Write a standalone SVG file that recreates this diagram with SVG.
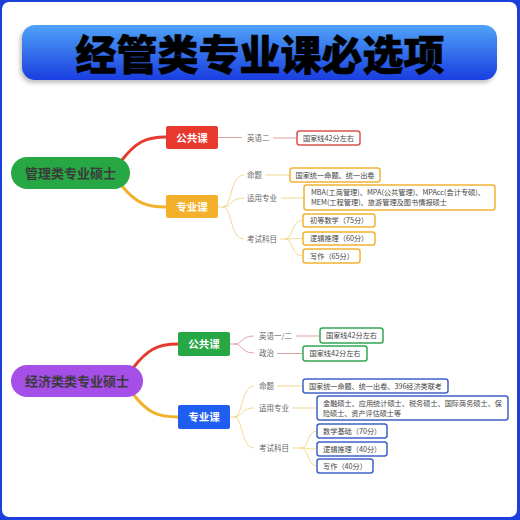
<svg xmlns="http://www.w3.org/2000/svg" width="520" height="520" viewBox="0 0 520 520">
<defs>
<linearGradient id="tg" x1="0" y1="0" x2="0" y2="1">
<stop offset="0" stop-color="#4fa3f8"/>
<stop offset="1" stop-color="#1a3de0"/>
</linearGradient>
<filter id="sh" x="-5%" y="-20%" width="110%" height="150%">
<feDropShadow dx="-2" dy="3" stdDeviation="2" flood-color="#000" flood-opacity="0.25"/>
</filter>
<style>
.cjk{font-family:"Noto Sans CJK SC","Noto Sans",sans-serif}
.root{font-size:13px;font-weight:bold;fill:#3a3a3a}
.sub{font-size:10.5px;font-weight:bold;fill:#fff}
.lab{font-size:7.5px;fill:#666}
.bt{font-size:7.2px;fill:#444}
.box{fill:#fff;stroke-width:1.5}
.thick{fill:none;stroke-width:3;stroke-linecap:round}
.thin{fill:none;stroke-width:1}
.rl{stroke:#e0a3a3}
.yl{stroke:#f1d98f}
</style>
</defs>
<rect x="0" y="0" width="520" height="520" fill="#1c3fdc"/>
<rect x="2" y="2" width="515" height="515" rx="7" fill="#fff"/>
<g id="title">
<rect x="22" y="25" width="475" height="55" rx="13" fill="url(#tg)" filter="url(#sh)"/>
<text x="260" y="70" text-anchor="middle" class="cjk" font-size="41" font-weight="900" fill="#000" stroke="#000" stroke-width="0.6">经管类专业课必选项</text>
</g>
<g id="connectors">
<path class="thick" stroke="#e53a2f" d="M122 160 C136 142 146 137 166 137"/>
<path class="thick" stroke="#f3b02b" d="M122 186 C136 203 146 207 166 207"/>
<path class="thin rl" d="M218 137.5 H242 M273 138 H297"/>
<path class="thin yl" d="M218 207 H223 C232 207 230 175 244 175 M223 207 C232 207 230 198 244 198 M223 207 C232 207 230 239 244 239"/>
<path class="thin yl" d="M265 175 H290 M281 198 H304"/>
<path class="thin yl" d="M280 239 H285 C293 239 291 220.5 303 220.5 M285 239 C293 239 291 238.5 303 238.5 M285 239 C293 239 291 256 303 256"/>
<path class="thick" stroke="#e53a2f" d="M133 368 C147 350 157 344 178 344"/>
<path class="thick" stroke="#f3b02b" d="M133 394 C147 412 157 417 178 417"/>
<path class="thin rl" d="M230 344 H234 C243 344 241 336 254 336 M234 344 C243 344 241 353 254 353 M296 336 H320 M277 353.5 H303"/>
<path class="thin yl" d="M230 417 H234 C243 417 241 386 254 386 M234 417 C243 417 241 408 254 408 M234 417 C243 417 241 448 254 448"/>
<path class="thin yl" d="M277 386 H303 M292 408 H317"/>
<path class="thin yl" d="M292 448 H301 C309 448 307 431 317 431 M301 448 C309 448 307 449 317 449 M301 448 C309 448 307 466 317 466"/>
</g>
<g id="root1">
<rect x="11" y="157" width="119" height="32" rx="16" fill="#27a844"/>
<text x="70.5" y="177.5" text-anchor="middle" class="cjk root">管理类专业硕士</text>
</g>
<g id="gg1">
<rect x="166" y="126" width="52" height="23" rx="2" fill="#e8392f"/>
<text x="192" y="141.5" text-anchor="middle" class="cjk sub">公共课</text>
</g>
<g id="zy1">
<rect x="166" y="195" width="52" height="23" rx="2" fill="#f3b02b"/>
<text x="192" y="210.5" text-anchor="middle" class="cjk sub">专业课</text>
</g>
<g id="l1a"><text x="247" y="140.5" class="cjk lab">英语二</text></g>
<g id="b1a"><rect x="297" y="131" width="63" height="14" rx="2.5" class="box" stroke="#d9534f"/><text x="328.5" y="140.8" text-anchor="middle" class="cjk bt">国家线42分左右</text></g>
<g id="l1b"><text x="247" y="177.5" class="cjk lab">命题</text></g>
<g id="b1b"><rect x="290" y="168" width="90" height="14" rx="2.5" class="box" stroke="#f0b232"/><text x="335" y="177.8" text-anchor="middle" class="cjk bt">国家统一命题、统一出卷</text></g>
<g id="l1c"><text x="247" y="200.5" class="cjk lab">适用专业</text></g>
<g id="b1c"><rect x="304" y="185" width="191" height="25" rx="2.5" class="box" stroke="#f0b232"/><text x="311" y="195.3" class="cjk bt" textLength="174" lengthAdjust="spacingAndGlyphs">MBA(工商管理)、MPA(公共管理)、MPAcc(会计专硕)、</text><text x="311" y="205.3" class="cjk bt" textLength="136" lengthAdjust="spacingAndGlyphs">MEM(工程管理)、旅游管理及图书情报硕士</text></g>
<g id="l1d"><text x="247" y="241.5" class="cjk lab">考试科目</text></g>
<g id="b1d"><rect x="303" y="214" width="72" height="13" rx="2.5" class="box" stroke="#f0b232"/><text x="310" y="223.3" class="cjk bt">初等数学（75分）</text></g>
<g id="b1e"><rect x="303" y="232" width="72" height="13" rx="2.5" class="box" stroke="#f0b232"/><text x="310" y="241.3" class="cjk bt">逻辑推理（60分）</text></g>
<g id="b1f"><rect x="303" y="249" width="57" height="14" rx="2.5" class="box" stroke="#f0b232"/><text x="310" y="258.8" class="cjk bt">写作（65分）</text></g>
<g id="root2">
<rect x="11" y="365" width="132" height="32" rx="16" fill="#a64ee8"/>
<text x="77" y="385.5" text-anchor="middle" class="cjk root">经济类类专业硕士</text>
</g>
<g id="gg2">
<rect x="178" y="332" width="52" height="24" rx="2" fill="#27a844"/>
<text x="204" y="348" text-anchor="middle" class="cjk sub">公共课</text>
</g>
<g id="zy2">
<rect x="178" y="405" width="52" height="24" rx="2" fill="#1f5ef0"/>
<text x="204" y="421" text-anchor="middle" class="cjk sub">专业课</text>
</g>
<g id="l2a"><text x="259" y="338.5" class="cjk lab">英语一/二</text></g>
<g id="b2a"><rect x="320" y="328" width="63" height="15" rx="2.5" class="box" stroke="#32a852"/><text x="351.5" y="338.3" text-anchor="middle" class="cjk bt">国家线42分左右</text></g>
<g id="l2b"><text x="259" y="356" class="cjk lab">政治</text></g>
<g id="b2b"><rect x="303" y="346" width="64" height="15" rx="2.5" class="box" stroke="#32a852"/><text x="335" y="356.3" text-anchor="middle" class="cjk bt">国家线42分左右</text></g>
<g id="l2c"><text x="259" y="388.5" class="cjk lab">命题</text></g>
<g id="b2c"><rect x="303" y="379" width="145" height="14" rx="2.5" class="box" stroke="#3f62c8"/><text x="309" y="388.8" class="cjk bt" textLength="133" lengthAdjust="spacingAndGlyphs">国家统一命题、统一出卷、396经济类联考</text></g>
<g id="l2d"><text x="259" y="410.5" class="cjk lab">适用专业</text></g>
<g id="b2d"><rect x="317" y="396" width="191" height="24" rx="2.5" class="box" stroke="#3f62c8"/><text x="323" y="405.8" class="cjk bt" textLength="179" lengthAdjust="spacingAndGlyphs">金融硕士、应用统计硕士、税务硕士、国际商务硕士、保</text><text x="323" y="415.8" class="cjk bt" textLength="78" lengthAdjust="spacingAndGlyphs">险硕士、资产评估硕士等</text></g>
<g id="l2e"><text x="259" y="450.5" class="cjk lab">考试科目</text></g>
<g id="b2e"><rect x="317" y="424" width="70" height="14" rx="2.5" class="box" stroke="#3f62c8"/><text x="323" y="433.8" class="cjk bt">数学基础（70分）</text></g>
<g id="b2f"><rect x="317" y="442" width="70" height="14" rx="2.5" class="box" stroke="#3f62c8"/><text x="323" y="451.8" class="cjk bt">逻辑推理（40分）</text></g>
<g id="b2g"><rect x="317" y="459" width="56" height="14" rx="2.5" class="box" stroke="#3f62c8"/><text x="323" y="468.8" class="cjk bt">写作（40分）</text></g>
</svg>
